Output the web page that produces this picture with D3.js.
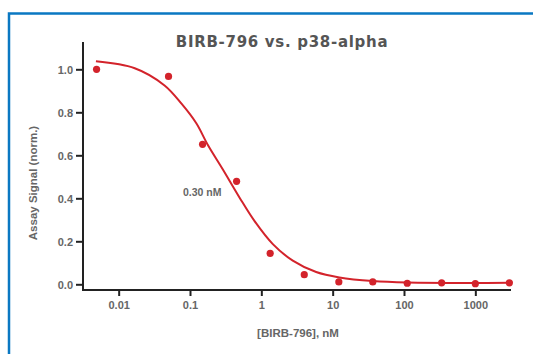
<!DOCTYPE html>
<html>
<head>
<meta charset="utf-8">
<script src="https://cdn.jsdelivr.net/npm/d3@7"></script>
<style>
  html, body { margin: 0; padding: 0; background: #fff; }
  svg { display: block; }
</style>
</head>
<body>
<svg width="533" height="354"></svg>
<script>
const width = 533, height = 354;

// measured points
const concNM = [0.0049, 0.05, 0.15, 0.45, 1.33, 4.0, 12.2, 36.5, 111, 337, 1000, 3000];
const signal = [1.0, 0.967, 0.651, 0.479, 0.144, 0.045, 0.011, 0.011, 0.005, 0.007, 0.003, 0.007];

// fitted curve
const fitConc = [0.0048, 0.0168, 0.044, 0.076, 0.122, 0.178, 0.289, 0.496, 0.80, 1.45, 2.76, 5.87, 12.4, 36.4, 112, 1000, 3000];
const fitSignal = [1.037, 1.005, 0.925, 0.84, 0.75, 0.648, 0.534, 0.403, 0.295, 0.187, 0.11, 0.057, 0.032, 0.015, 0.008, 0.006, 0.007];

const xTicks = [0.01, 0.1, 1, 10, 100, 1000];
const xTickLabels = ["0.01", "0.1", "1", "10", "100", "1000"];
const yTicks = [0, 0.2, 0.4, 0.6, 0.8, 1.0];

const title = "BIRB-796 vs. p38-alpha";
const xTitle = "[BIRB-796], nM";
const yTitle = "Assay Signal (norm.)";
const ic50Label = "0.30 nM";

const red = "#d3232b";
const grey = "#666";
const font = "'Liberation Sans', Arial, sans-serif";

const svg = d3.select("svg");

// blue frame (runs off the right and bottom edges)
svg.append("rect")
  .attr("x", 9)
  .attr("y", 13.5)
  .attr("width", 600)
  .attr("height", 400)
  .attr("fill", "none")
  .attr("stroke", "#0a78c2")
  .attr("stroke-width", 2.5);

const x = d3.scaleLog()
  .domain([Math.pow(10, -2.5), Math.pow(10, 3.5)])
  .range([83, 511]);

const y = d3.scaleLinear()
  .domain([0, 1])
  .range([284.3, 69.3]);

// title
svg.append("text")
  .attr("x", 282)
  .attr("y", 47)
  .attr("text-anchor", "middle")
  .attr("font-family", "'DejaVu Sans', Verdana, sans-serif")
  .attr("font-weight", "bold")
  .attr("font-size", "15px")
  .attr("letter-spacing", "0.7px")
  .attr("fill", "#555")
  .text(title);

// Y axis
const yAxis = svg.append("g")
  .attr("transform", "translate(83,0)")
  .call(d3.axisLeft(y).tickValues(yTicks).tickFormat(d3.format(".1f")).tickSize(7).tickSizeOuter(0));
yAxis.select(".domain").remove();
yAxis.append("line")
  .attr("x1", 0).attr("x2", 0)
  .attr("y1", 42).attr("y2", 291)
  .attr("stroke", "#222").attr("stroke-width", 2);

// X axis
const xAxis = svg.append("g")
  .attr("transform", "translate(0,290)")
  .call(d3.axisBottom(x).tickValues(xTicks).tickFormat((d, i) => xTickLabels[i]).tickSize(6).tickSizeOuter(0));
xAxis.select(".domain").remove();
xAxis.append("line")
  .attr("x1", 82).attr("x2", 511)
  .attr("y1", 0).attr("y2", 0)
  .attr("stroke", "#222").attr("stroke-width", 2);

[yAxis, xAxis].forEach(g => {
  g.selectAll(".tick line").attr("stroke", "#222").attr("stroke-width", 2);
  g.selectAll(".tick text")
    .attr("font-family", font)
    .attr("font-weight", "bold")
    .attr("font-size", "11px")
    .attr("fill", grey);
});
yAxis.selectAll(".tick text").attr("x", -10).attr("dy", "0.35em");
xAxis.selectAll(".tick text").attr("y", 11);

// axis titles
svg.append("text")
  .attr("x", 298)
  .attr("y", 337)
  .attr("text-anchor", "middle")
  .attr("font-family", font)
  .attr("font-weight", "bold")
  .attr("font-size", "11.5px")
  .attr("fill", grey)
  .text(xTitle);

svg.append("text")
  .attr("transform", "translate(37,183) rotate(-90)")
  .attr("text-anchor", "middle")
  .attr("font-family", font)
  .attr("font-weight", "bold")
  .attr("font-size", "11.5px")
  .attr("fill", grey)
  .text(yTitle);

// fitted curve
const line = d3.line()
  .x((d, i) => x(fitConc[i]))
  .y((d, i) => y(fitSignal[i]))
  .curve(d3.curveCatmullRom);

svg.append("path")
  .attr("d", line(fitConc))
  .attr("fill", "none")
  .attr("stroke", red)
  .attr("stroke-width", 2);

// points
svg.selectAll(".pt")
  .data(concNM)
  .enter().append("circle")
  .attr("class", "pt")
  .attr("cx", d => x(d))
  .attr("cy", (d, i) => y(signal[i]))
  .attr("r", 3.6)
  .attr("fill", red);

// IC50 annotation
svg.append("text")
  .attr("x", 183)
  .attr("y", 196)
  .attr("font-family", font)
  .attr("font-weight", "bold")
  .attr("font-size", "10.5px")
  .attr("fill", grey)
  .text(ic50Label);
</script>
</body>
</html>
